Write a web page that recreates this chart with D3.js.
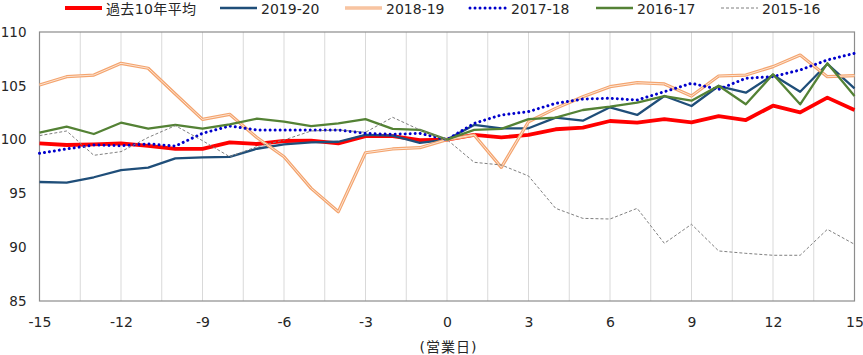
<!DOCTYPE html>
<html><head><meta charset="utf-8">
<script src="https://cdn.jsdelivr.net/npm/d3@7"></script>
<style>
html,body{margin:0;padding:0;background:#fff;}
svg text{font-family:"DejaVu Sans","Noto Sans CJK JP",sans-serif;fill:#262626;}
</style></head>
<body>
<svg id="chart" width="863" height="355"></svg>
<script>
const days = [-15,-14,-13,-12,-11,-10,-9,-8,-7,-6,-5,-4,-3,-2,-1,0,1,2,3,4,5,6,7,8,9,10,11,12,13,14,15];
const xTickLabels = [-15,-12,-9,-6,-3,0,3,6,9,12,15];
const yTickLabels = [85,90,95,100,105,110];
const gridDays = [-13.5,-12,-10.5,-9,-7.5,-6,-4.5,-3,-1.5,0,1.5,3,4.5,6,7.5,9,10.5,12,13.5];

const seriesNames = ["過去10年平均","2019-20","2018-19","2017-18","2016-17","2015-16"];
const avg10 = [99.65,99.5,99.56,99.65,99.41,99.13,99.13,99.75,99.59,99.87,99.9,99.65,100.33,100.33,99.95,100,100.43,100.21,100.43,100.96,101.11,101.73,101.57,101.9,101.6,102.19,101.82,103.15,102.53,103.9,102.75];
const s1920 = [96.06,96.0,96.5,97.17,97.4,98.26,98.35,98.4,99.15,99.56,99.75,99.8,100.43,100.37,99.7,100,101.36,101.05,101.05,102.04,101.76,103.0,102.29,104.05,103.12,104.98,104.36,106.0,104.45,107.03,104.77];
const s1819 = [105.07,105.85,106.0,107.09,106.63,104.24,101.88,102.35,100.2,98.41,95.47,93.3,98.78,99.13,99.25,100,100.43,97.42,101.66,102.9,103.99,104.92,105.29,105.17,104.05,105.91,106.0,106.78,107.86,105.85,105.94];
const s1718 = [98.73,99.13,99.5,99.43,99.6,99.4,100.58,101.26,100.9,100.9,100.9,100.9,100.58,100.49,100.58,100,101.51,102.29,102.6,103.37,103.77,103.84,103.68,104.45,105.23,104.67,105.7,105.85,106.47,107.4,108.02];
const s1617 = [100.65,101.2,100.52,101.57,101.01,101.36,101.01,101.42,101.94,101.67,101.26,101.51,101.91,100.99,100.9,100,100.9,100.99,101.91,102.04,102.75,103.06,103.43,104.05,103.62,105.01,103.28,106.07,103.28,107.09,104.05];
const s1516 = [100.37,100.8,98.54,98.88,100.2,101.3,99.9,98.41,99.34,99.96,100.8,100.9,100.68,102.07,100.9,100,97.89,97.64,96.62,93.61,92.68,92.62,93.61,90.36,92.13,89.65,89.43,89.25,89.25,91.66,90.27];

const allSeries = [avg10,s1920,s1819,s1718,s1617,s1516];
const styles = [
  {color:"#FF0000", width:3.8},
  {color:"#1F4E79", width:2.3},
  {color:"#F4A46E", width:3.2, inner:"#FCE4D3"},
  {color:"#0000CC", width:3, dash:"0.01 5", cap:"round"},
  {color:"#548235", width:2.3},
  {color:"#7F7F7F", width:1, dash:"3 2"}
];

const svg = d3.select("#chart");
const x = d3.scaleLinear().domain([-15,15]).range([39.5,854.5]);
const y = d3.scaleLinear().domain([85,110]).range([301,32]);

// gridlines
svg.append("g").selectAll("line").data(gridDays).join("line")
  .attr("x1",d=>x(d)).attr("x2",d=>x(d)).attr("y1",y(110)).attr("y2",y(85))
  .attr("stroke","#D9D9D9").attr("stroke-width",1);

// frame
svg.append("rect").attr("x",x(-15)).attr("y",y(110))
  .attr("width",x(15)-x(-15)).attr("height",y(85)-y(110))
  .attr("fill","none").attr("stroke","#8C8C8C").attr("stroke-width",1.2);

// axes
const fmt = d => String(d);
const xAxis = svg.append("g").attr("transform",`translate(0,${y(85)})`)
  .call(d3.axisBottom(x).tickValues(xTickLabels).tickSize(0).tickPadding(16).tickFormat(fmt));
xAxis.select(".domain").remove();
xAxis.selectAll("text").attr("font-size","14px").style("font-family","DejaVu Sans");

const yAxis = svg.append("g").attr("transform",`translate(${x(-15)},0)`)
  .call(d3.axisLeft(y).tickValues(yTickLabels).tickSize(0).tickPadding(13).tickFormat(fmt));
yAxis.select(".domain").remove();
yAxis.selectAll("text").attr("font-size","13.5px").style("font-family","DejaVu Sans");

// lines
const line = d3.line().x((d,i)=>x(days[i])).y(d=>y(d));
allSeries.forEach((vals,k)=>{
  const st = styles[k];
  const p = svg.append("path").datum(vals).attr("d",line)
    .attr("fill","none").attr("stroke",st.color).attr("stroke-width",st.width)
    .attr("stroke-linejoin","round");
  if(st.dash) p.attr("stroke-dasharray",st.dash);
  if(st.cap) p.attr("stroke-linecap",st.cap);
  if(st.inner){
    svg.append("path").datum(vals).attr("d",line)
      .attr("fill","none").attr("stroke",st.inner).attr("stroke-width",1)
      .attr("stroke-linejoin","round");
  }
});

// legend
const legendX = [65,220,345,470,596,721];
const lg = svg.append("g");
seriesNames.forEach((name,k)=>{
  const st = styles[k];
  const lx = legendX[k];
  const l = lg.append("line").attr("x1",lx).attr("x2",lx+37).attr("y1",8).attr("y2",8)
    .attr("stroke",st.color).attr("stroke-width",st.width);
  if(st.dash) l.attr("stroke-dasharray",st.dash);
  if(st.cap) l.attr("stroke-linecap",st.cap);
  if(st.inner){
    lg.append("line").attr("x1",lx).attr("x2",lx+37).attr("y1",8).attr("y2",8)
      .attr("stroke",st.inner).attr("stroke-width",1);
  }
  const t = lg.append("text").attr("x",lx+41).attr("y",14).attr("font-size","14px").text(name);
  if(k===0) t.attr("textLength",90).attr("lengthAdjust","spacing");
});

// x axis title
svg.append("text").attr("x",448).attr("y",352).attr("text-anchor","middle")
  .attr("font-size","14px").attr("textLength",57).attr("lengthAdjust","spacing").text("(営業日)");
</script>
</body></html>
